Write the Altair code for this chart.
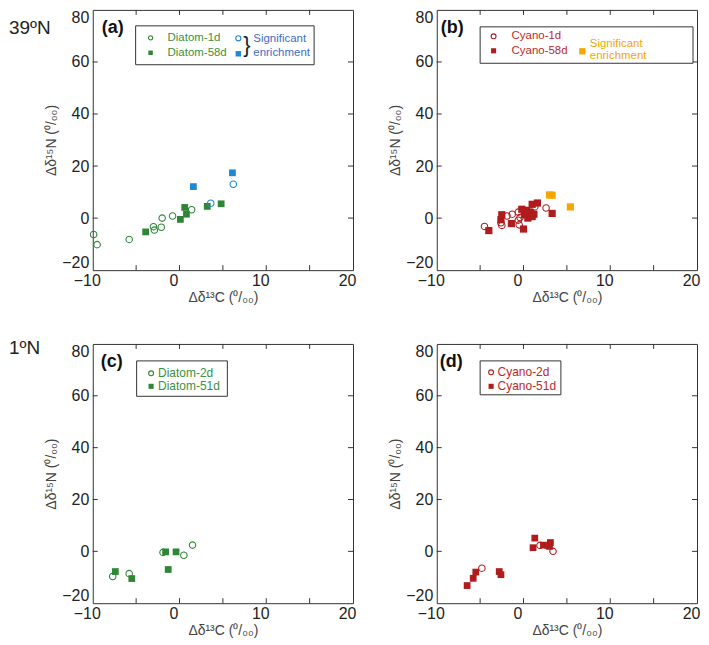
import altair as alt
import pandas as pd

FONT = "Liberation Sans"
W = 261
H_TOP, H_BOT = 261, 260

# ---------------- data ----------------
x_tick_vals = [-5, 0, 5, 10, 15]
y_tick_vals = [0, 20, 40, 60]
x_label_vals = [-10, 0, 10, 20]
y_label_vals = [-20, 0, 20, 40, 60, 80]

# (a) 39N diatom
a_1d_x = [-9.9, -9.5, -5.8, -3.0, -2.9, -2.1, -2.0, -0.8, 1.4]
a_1d_y = [-6.3, -10.2, -8.2, -3.3, -4.6, -3.5, 0.0, 0.8, 3.2]
a_58d_x = [-3.9, 0.1, 0.6, 0.8, 3.2, 4.8]
a_58d_y = [-5.3, -0.5, 4.1, 1.5, 4.5, 5.5]
a_sig1d_x = [3.6, 6.2]
a_sig1d_y = [5.7, 13.0]
a_sig58d_x = [1.6, 6.1]
a_sig58d_y = [12.1, 17.4]

# (b) 39N cyano
b_1d_x = [-4.5, -2.6, -2.5, -1.9, -1.3, -0.6, -0.6, -0.5, -0.4, 1.3, 2.6]
b_1d_y = [-3.2, -1.8, -2.8, 0.8, 1.5, 2.3, -0.8, -2.6, 0.2, 4.3, 3.9]
b_58d_x = [-4.0, -2.5, -2.6, -1.4, 0.0, -0.2, 0.1, 0.5, 1.0, 0.8, 1.0, 1.6, 3.3, 0.4, 1.2]
b_58d_y = [-4.8, 1.3, -0.6, -2.1, -4.2, 3.4, 1.3, 0.0, 0.6, 2.2, 5.3, 5.8, 1.8, 3.0, 1.5]
b_sig_x = [3.0, 3.3, 5.4]
b_sig_y = [8.9, 8.8, 4.3]

# (c) 1N diatom
c_2d_x = [-7.7, -5.8, -1.9, 0.5, 1.5]
c_2d_y = [-9.7, -8.6, -0.4, -1.5, 2.4]
c_51d_x = [-7.4, -5.5, -1.6, -0.4, -1.3]
c_51d_y = [-7.8, -10.5, -0.2, -0.2, -7.0]

# (d) 1N cyano
d_2d_x = [-4.8, 1.9, 3.4]
d_2d_y = [-6.5, 2.3, 0.0]
d_51d_x = [-6.5, -5.8, -5.5, -2.8, -2.6, 1.3, 1.1, 2.3, 2.8, 3.1, 3.0]
d_51d_y = [-13.2, -10.4, -8.0, -7.8, -9.0, 5.1, 1.4, 2.4, 2.3, 3.4, 1.9]

panel_tags = ["(a)", "(b)", "(c)", "(d)"]
region_labels = ["39ºN", "1ºN"]
legend_a = ["Diatom-1d", "Diatom-58d"]
legend_b = ["Cyano-1d", "Cyano-58d"]
legend_c = ["Diatom-2d", "Diatom-51d"]
legend_d = ["Cyano-2d", "Cyano-51d"]
sig_text = ["Significant", "enrichment"]
x_title = "Δδ¹³C (⁰/₀₀)"
y_title = "Δδ¹⁵N (⁰/₀₀)"

# ---------------- styles ----------------
GREEN = "#2e8636"
GREEN_TXT = "#3a9140"
BLUE = "#1e88d0"
BLUE_TXT = "#3d6cc6"
RED = "#b01c1c"
RED_TXT = "#c0282a"
ORANGE = "#f6a600"
EDGE = "#333333"

xs = alt.Scale(domain=[-10, 20], nice=False, zero=False)
ys = alt.Scale(domain=[-20, 80], nice=False, zero=False)
X_AX = alt.Axis(values=x_label_vals, title=x_title, labelPadding=2, titlePadding=2,
                labelFlush=False, labelOffset=-6)
Y_AX = alt.Axis(values=y_label_vals, title=y_title, labelPadding=4, titlePadding=3,
                labelFlush=True)
dummy = pd.DataFrame({"_": [0]})


def xenc(field):
    return alt.X(field, type="quantitative", scale=xs, axis=X_AX)


def yenc(field):
    return alt.Y(field, type="quantitative", scale=ys, axis=Y_AX)


def pts(xv, yv, shape, color, filled, size):
    df = pd.DataFrame({"x": xv, "y": yv})
    if filled:
        m = alt.Chart(df).mark_point(shape=shape, filled=True, color=color,
                                     size=size, opacity=1, strokeWidth=0)
    else:
        m = alt.Chart(df).mark_point(shape=shape, filled=False, color=color,
                                     size=size, opacity=1, strokeWidth=1.1)
    return m.encode(x=xenc("x"), y=yenc("y"))


def frame_layers(h):
    xt = pd.DataFrame({"v": x_tick_vals})
    yt = pd.DataFrame({"v": y_tick_vals})
    bottom = alt.Chart(xt).mark_rule(color=EDGE, strokeWidth=1).encode(
        x=xenc("v"), y=alt.value(h), y2=alt.value(h - 5))
    top = alt.Chart(xt).mark_rule(color=EDGE, strokeWidth=1).encode(
        x=xenc("v"), y=alt.value(0), y2=alt.value(5))
    left = alt.Chart(yt).mark_rule(color=EDGE, strokeWidth=1).encode(
        y=yenc("v"), x=alt.value(0), x2=alt.value(5))
    right = alt.Chart(yt).mark_rule(color=EDGE, strokeWidth=1).encode(
        y=yenc("v"), x=alt.value(W), x2=alt.value(W - 5))
    return [bottom, top, left, right]


def txt(s, x, y, color="#111", size=12, weight="normal", align="left"):
    return alt.Chart(dummy).mark_text(text=s, font=FONT, fontSize=size, fontWeight=weight,
                                      color=color, align=align, baseline="middle").encode(
        x=alt.value(x), y=alt.value(y))


def sym(x, y, shape, color, filled, size):
    if filled:
        m = alt.Chart(dummy).mark_point(shape=shape, filled=True, color=color, size=size,
                                        opacity=1, strokeWidth=0)
    else:
        m = alt.Chart(dummy).mark_point(shape=shape, filled=False, color=color, size=size,
                                        opacity=1, strokeWidth=1.1)
    return m.encode(x=alt.value(x), y=alt.value(y))


def box(x1, x2, y1, y2):
    return alt.Chart(dummy).mark_rect(fill="white", stroke=EDGE, strokeWidth=1).encode(
        x=alt.value(x1), x2=alt.value(x2), y=alt.value(y1), y2=alt.value(y2))


CS, SS = 42, 46  # circle / square sizes (data)
LCS, LSS = 18, 20  # legend symbol sizes
LF = 11.5  # legend font size

# ---- panel (a)
pa = alt.layer(
    *frame_layers(H_TOP),
    pts(a_1d_x, a_1d_y, "circle", GREEN, False, CS),
    pts(a_58d_x, a_58d_y, "square", GREEN, True, SS),
    pts(a_sig1d_x, a_sig1d_y, "circle", BLUE, False, CS),
    pts(a_sig58d_x, a_sig58d_y, "square", BLUE, True, SS),
    box(43, 222, 16, 55),
    sym(58, 28, "circle", GREEN, False, LCS),
    sym(58, 43, "square", GREEN, True, LSS),
    txt(legend_a[0], 75, 28, GREEN_TXT, LF),
    txt(legend_a[1], 75, 43.5, GREEN_TXT, LF),
    sym(146, 28.5, "circle", BLUE, False, LCS + 8),
    sym(146, 44, "square", BLUE, True, LSS + 10),
    txt("}", 151, 35.5, "#222", 22),
    txt(sig_text[0], 161, 29.5, BLUE_TXT, LF),
    txt(sig_text[1], 161, 43.5, BLUE_TXT, LF),
    txt(panel_tags[0], 9, 18, "#111", 18, "bold"),
    txt(region_labels[0], -84, 18, "#222", 19),
).properties(width=W, height=H_TOP)

# ---- panel (b)
pb = alt.layer(
    *frame_layers(H_TOP),
    pts(b_1d_x, b_1d_y, "circle", RED, False, CS),
    pts(b_58d_x, b_58d_y, "square", RED, True, SS + 6),
    pts(b_sig_x, b_sig_y, "square", ORANGE, True, SS + 6),
    box(43.5, 257, 17, 53.5),
    sym(57, 26.5, "circle", RED, False, LCS + 6),
    sym(57, 41, "square", RED, True, LSS + 6),
    txt(legend_b[0], 75, 26.5, RED_TXT, LF),
    txt(legend_b[1], 75, 41, RED_TXT, LF),
    sym(146, 41.5, "square", ORANGE, True, LSS + 20),
    txt(sig_text[0], 153.5, 34, ORANGE, LF),
    txt(sig_text[1], 153.5, 46, ORANGE, LF),
    txt(panel_tags[1], 4, 18, "#111", 18, "bold"),
).properties(width=W, height=H_TOP)

# ---- panel (c)
pc = alt.layer(
    *frame_layers(H_BOT),
    pts(c_2d_x, c_2d_y, "circle", GREEN, False, CS),
    pts(c_51d_x, c_51d_y, "square", GREEN, True, SS),
    box(44, 135, 17, 52.5),
    sym(58.5, 29.5, "circle", GREEN, False, LCS + 6),
    sym(58.5, 42.5, "square", GREEN, True, LSS + 6),
    txt(legend_c[0], 65.5, 29.5, GREEN_TXT, 12),
    txt(legend_c[1], 65.5, 42.5, GREEN_TXT, 12),
    txt(panel_tags[2], 8, 18, "#111", 18, "bold"),
    txt(region_labels[1], -84, 4, "#222", 19),
).properties(width=W, height=H_BOT)

# ---- panel (d)
pd_ = alt.layer(
    *frame_layers(H_BOT),
    pts(d_2d_x, d_2d_y, "circle", RED, False, CS),
    pts(d_51d_x, d_51d_y, "square", RED, True, SS),
    box(43.5, 124.5, 17, 51),
    sym(54.5, 28.5, "circle", RED, False, LCS + 6),
    sym(54.5, 42.5, "square", RED, True, LSS + 6),
    txt(legend_d[0], 61, 28.5, RED_TXT, 12),
    txt(legend_d[1], 61, 42.5, RED_TXT, 12),
    txt(panel_tags[3], 3, 18, "#111", 18, "bold"),
).properties(width=W, height=H_BOT)

chart = alt.vconcat(
    alt.hconcat(pa, pb, spacing=31),
    alt.hconcat(pc, pd_, spacing=31),
    spacing=33,
).properties(
    padding=0
).configure_view(
    stroke=EDGE, strokeWidth=1
).configure_axis(
    grid=False, domain=False, ticks=False,
    labelFont=FONT, labelFontSize=16, labelColor="#222",
    titleFont=FONT, titleFontSize=14, titleColor="#444", titleFontWeight="normal",
)

chart.save("out.html", embed_options={"renderer": "svg", "actions": False})
